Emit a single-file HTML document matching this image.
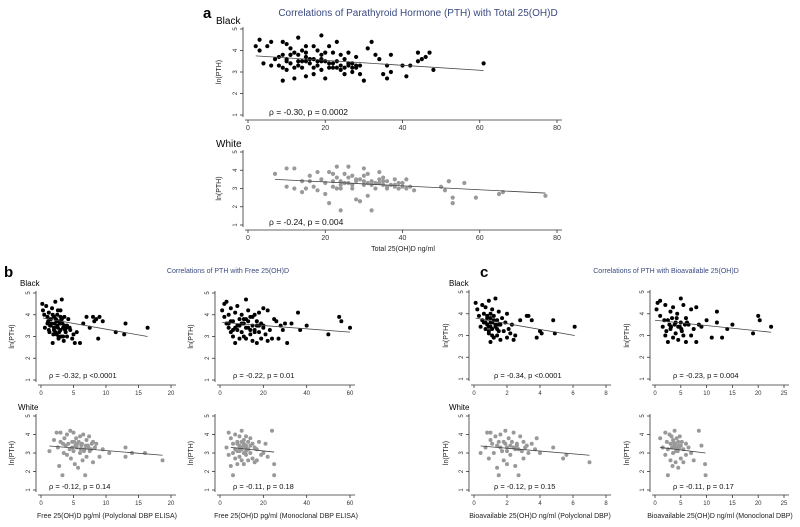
<!DOCTYPE html>
<html><head><meta charset="utf-8">
<style>
html,body{margin:0;padding:0;background:#fff;}
svg{display:block;font-family:"Liberation Sans",Arial,sans-serif;}
</style></head>
<body>
<svg id="fig" width="800" height="527" viewBox="0 0 800 527">
<text x="203" y="18" font-size="15" font-weight="bold">a</text>
<text x="418" y="16" font-size="10" fill="#3a4a80" text-anchor="middle">Correlations of Parathyroid Hormone (PTH) with Total 25(OH)D</text>
<text x="216" y="24" font-size="10">Black</text>
<text x="216" y="147" font-size="10">White</text>
<text x="403" y="251" font-size="7" text-anchor="middle" fill="#222">Total 25(OH)D ng/ml</text>

<text x="4" y="277" font-size="15" font-weight="bold">b</text>
<text x="228" y="273" font-size="7" fill="#3a4a80" text-anchor="middle">Correlations of PTH with Free 25(OH)D</text>
<text x="20" y="286" font-size="8">Black</text>
<text x="18" y="410" font-size="8">White</text>
<text x="107" y="518" font-size="7" text-anchor="middle" fill="#222">Free 25(OH)D pg/ml (Polyclonal DBP ELISA)</text>
<text x="286" y="518" font-size="7" text-anchor="middle" fill="#222">Free 25(OH)D pg/ml (Monoclonal DBP ELISA)</text>

<text x="480" y="277" font-size="15" font-weight="bold">c</text>
<text x="666" y="273" font-size="7" fill="#3a4a80" text-anchor="middle">Correlations of PTH with Bioavailable 25(OH)D</text>
<text x="449" y="286" font-size="8">Black</text>
<text x="449" y="410" font-size="8">White</text>
<text x="540" y="518" font-size="7" text-anchor="middle" fill="#222">Bioavailable 25(OH)D ng/ml (Polyclonal DBP)</text>
<text x="720" y="518" font-size="7" text-anchor="middle" fill="#222">Bioavailable 25(OH)D ng/ml (Monoclonal DBP)</text>
</svg>
<script>
// ---- data ----
const yTicks = [1,2,3,4,5];
const aTicks = [0,20,40,60,80];
const bLTicks = [0,5,10,15,20];
const bRTicks = [0,20,40,60];
const cLTicks = [0,2,4,6,8];
const cRTicks = [0,5,10,15,20,25];

const aBx = [2,3,3,4,5,6,6,7,8,9,9,9,10,10,10,11,11,12,12,13,13,13,14,14,15,15,15,16,16,17,17,17,18,18,19,19,19,20,20,21,21,22,22,23,23,24,24,25,25,26,26,27,27,28,28,29,29,30,31,32,33,34,35,36,36,37,37,40,41,42,44,44,45,46,47,48,61,8,9,10,11,12,13,14,15,16,17,18,19,20,21,22,23,24,25,26,27,28,11,15,19];
const aBy = [4.2,4.5,4.0,3.4,4.2,3.3,4.4,3.6,3.3,4.4,2.6,3.8,4.3,3.1,3.6,4.1,3.4,2.7,3.9,4.6,3.3,3.8,3.5,4.0,2.8,3.7,4.2,3.4,3.6,2.9,4.2,3.6,3.3,4.0,4.7,3.1,3.8,3.9,2.7,3.4,4.2,3.2,3.9,4.4,3.5,3.1,3.8,2.9,3.6,3.3,3.9,3.0,3.4,3.7,3.2,2.9,3.3,2.6,4.1,4.4,3.8,3.6,2.9,3.3,2.7,3.8,3.0,3.3,2.8,3.3,3.9,3.5,3.6,3.7,3.9,3.1,3.4,3.7,3.2,3.5,3.8,3.2,3.5,3.2,3.5,3.6,3.2,3.5,3.6,3.5,3.2,3.4,3.2,3.3,3.2,3.4,3.2,3.3,3.8,3.9,3.5];
const aBfit = [[2,3.75],[61,3.07]];

const aWx = [7,10,10,12,12,14,14,15,16,16,17,18,18,19,20,20,21,21,22,22,23,23,24,24,24,25,25,26,26,27,27,28,28,29,29,30,30,30,31,31,32,32,33,33,34,34,35,35,36,36,37,38,38,39,40,41,41,42,43,50,51,52,52,53,53,56,59,65,66,77,22,24,26,28,30,32,34,36,38,40,23,27,31,35,39];
const aWy = [3.8,4.1,3.1,4.1,3.0,3.4,2.8,3.0,3.7,3.4,3.1,3.9,2.9,3.5,2.7,3.3,3.9,2.2,3.8,3.1,4.2,3.6,3.4,1.8,3.0,3.8,3.3,4.2,3.6,3.0,3.7,2.4,3.4,3.5,2.3,4.1,3.2,3.7,2.6,3.8,1.8,3.4,3.3,3.0,3.9,3.5,3.2,3.6,3.0,3.4,3.2,3.5,3.1,3.3,3.3,3.5,3.0,3.1,2.9,3.1,2.9,3.4,3.4,2.5,2.2,3.3,2.5,2.7,2.8,2.6,3.4,3.2,3.3,3.5,3.4,3.2,3.3,3.1,3.2,3.1,3.0,3.2,3.3,3.4,3.0];
const aWfit = [[7,3.5],[77,2.75]];

const bLBx = [0.2,0.3,0.5,0.6,0.8,1,1,1.2,1.3,1.5,1.5,1.7,1.8,2,2,2.1,2.2,2.4,2.5,2.5,2.7,2.8,3,3,3.1,3.2,3.3,3.4,3.5,3.6,3.8,4,4,4.2,4.5,4.8,5,5.2,5.5,6,6.5,7,7.5,8,8.2,8.5,8.8,9,9.5,11.5,12.8,13,16.4,1.1,1.9,2.3,2.6,2.9,3.7,1.4,2.7,3.9,1.6,2.0,2.4,2.8,3.2,3.6,1.2,1.8,2.2,3.0,3.4,4.4,2.6,3.0];
const bLBy = [4.5,4.2,4.0,3.4,4.4,3.9,3.6,4.1,3.2,3.8,3.5,4.3,2.7,3.9,3.3,3.6,4.6,3.1,4.0,3.5,2.9,3.7,4.2,3.3,3.0,4.7,3.6,3.4,2.8,3.9,3.2,3.5,3.0,3.8,3.3,2.9,3.1,2.7,3.2,2.7,3.6,3.9,3.4,3.9,3.7,3.8,2.9,3.9,3.7,3.2,3.1,3.6,3.4,3.7,3.1,3.8,3.4,3.6,3.3,3.5,3.0,3.4,3.6,3.4,3.7,3.2,3.8,3.5,3.3,4.0,3.2,3.9,3.0,3.4,4.2,3.7];
const bLBfit = [[0.3,3.85],[16.4,3.0]];

const bRBx = [1,2,2,3,4,4,5,5,6,6,7,7,8,8,9,9,10,10,11,11,12,12,12,13,13,14,14,15,15,16,16,17,17,18,18,19,19,20,20,21,22,22,23,24,25,26,27,28,29,30,31,33,36,37,40,50,55,56,60,3,6,9,11,14,17,5,8,10,13,15,18,4,7,12,16,20];
const bRBy = [4.2,4.5,3.9,4.6,3.4,4.0,3.2,4.3,3.0,3.7,2.7,4.1,3.5,4.4,2.9,3.8,3.2,4.0,3.6,3.0,4.7,3.4,2.9,4.2,3.7,3.1,3.9,3.5,2.8,4.0,3.3,3.7,2.7,4.1,3.2,3.6,2.9,3.4,4.3,3.1,4.2,2.8,3.3,2.9,3.8,3.7,2.9,3.5,3.3,3.6,2.7,3.6,4.1,3.3,3.5,3.1,3.9,3.7,3.4,3.6,3.3,3.5,3.8,3.3,3.5,3.7,3.3,3.6,3.4,3.9,3.5,3.6,3.4,3.8,3.2,3.5];
const bRBfit = [[1,3.65],[60,3.2]];

const bLWx = [1.3,2,2.4,2.6,2.8,3,3,3.3,3.5,3.6,3.8,4,4,4.2,4.5,4.6,4.8,5,5,5.2,5.4,5.5,5.7,5.8,6,6,6.2,6.4,6.5,6.7,6.8,7,7,7.2,7.4,7.5,7.8,8,8,8.3,8.5,9,9.5,10.5,13,13,14,16,18.7,3.4,4.4,5.3,6.3,6.6,7.3,4.8,5.6,6.1,6.9,7.7,5.1];
const bLWy = [3.1,3.7,4.1,3.3,2.3,4.1,3.6,1.8,3.0,3.8,3.4,2.9,4.0,3.5,4.2,2.7,3.6,3.1,4.1,2.4,3.8,3.3,2.2,3.6,3.0,3.9,3.4,2.6,4.0,3.2,1.8,3.7,2.8,3.4,3.9,3.1,3.5,2.5,3.6,3.3,3.5,2.8,3.2,3.0,3.3,2.8,3.0,3.0,2.6,3.5,3.2,3.4,3.5,3.1,3.3,3.3,3.5,3.2,3.4,3.2,3.6];
const bLWfit = [[1.3,3.38],[18.7,2.88]];

const bRWx = [3,4,4,5,5,6,6,6,7,7,7,8,8,8,9,9,9,10,10,10,11,11,11,12,12,12,13,13,13,14,14,15,15,16,16,17,17,18,19,20,21,22,24,25,25,9,10,11,12,13,8,10,12,14,11,9];
const bRWy = [3.3,4.1,2.9,3.8,2.3,3.5,3.0,1.8,4.0,3.2,2.7,3.6,3.1,2.4,3.9,3.4,2.8,4.2,3.3,2.6,3.7,3.0,2.4,3.9,3.4,2.9,3.6,3.2,2.6,3.8,3.0,3.5,2.7,3.3,2.5,3.2,2.6,3.6,2.9,3.0,3.5,2.8,4.2,2.4,1.8,3.3,3.2,3.4,3.3,3.2,3.5,3.6,3.1,3.4,3.5,3.1];
const bRWfit = [[5,3.3],[25,3.05]];

const cLBx = [0.1,0.2,0.3,0.4,0.5,0.5,0.6,0.7,0.7,0.8,0.8,0.9,0.9,1,1,1,1.1,1.1,1.2,1.2,1.3,1.3,1.4,1.4,1.5,1.5,1.6,1.7,1.8,1.9,2,2,2.1,2.2,2.3,2.4,2.5,2.8,3.2,3.3,3.5,3.8,4,4.1,4.8,4.9,6.1,0.6,0.9,1.1,1.3,0.7,0.9,1.0,1.2,1.4,1.6,0.8,1.1,1.5,1.0];
const cLBy = [4.5,4.2,3.9,3.4,4.4,3.7,4.0,3.3,4.3,3.8,3.5,4.6,3.1,4.0,3.6,2.7,4.2,3.3,3.9,2.9,4.7,3.4,3.7,3.0,4.1,3.5,2.8,3.8,3.2,3.6,2.9,4.0,3.3,3.1,3.5,2.8,3.0,3.7,3.9,3.9,3.7,2.9,3.2,3.1,3.7,3.1,3.4,3.6,3.4,3.6,3.5,3.6,3.2,3.4,3.7,3.3,3.5,3.9,3.0,3.2,3.8];
const cLBfit = [[0.1,3.8],[6.1,3.0]];

const cRBx = [0.3,0.5,1,1,1.5,2,2,2.5,2.5,3,3,3.3,3.5,3.5,4,4,4.3,4.5,4.5,5,5,5.2,5.5,5.5,6,6,6.5,7,7,7.5,8,8,8.5,9,10,11,12,12,13,14,15,19,20,20.3,22.5,2.8,3.8,4.8,5.8,1.8,3.1,4.2,5.1,6.2,2.2];
const cRBy = [4.2,4.5,3.9,4.6,3.4,4.4,3.0,3.7,2.7,4.1,3.3,3.8,2.9,4.3,3.6,3.1,4.0,3.4,2.8,4.7,3.6,3.2,4.4,3.0,3.8,2.7,3.5,4.2,3.0,3.3,4.3,2.7,3.5,3.4,3.7,2.9,4.1,3.6,2.9,3.3,3.5,3.1,3.9,3.7,3.4,3.5,3.5,3.4,3.5,3.7,3.4,3.8,3.3,3.6,3.2];
const cRBfit = [[0,3.7],[22.5,3.15]];

const cLWx = [0.4,0.7,0.8,0.9,1,1,1.1,1.2,1.3,1.4,1.4,1.5,1.6,1.7,1.8,1.8,1.9,2,2,2.1,2.2,2.3,2.4,2.5,2.5,2.6,2.7,2.8,2.9,3,3,3.2,3.3,3.5,3.7,3.8,4,4.8,5.4,5.6,7,1.6,2.2,2.7,3.1,1.9,2.4,2.0,2.6,1.5];
const cLWy = [3.0,3.3,4.1,2.7,3.7,4.1,3.5,3.0,3.9,2.2,3.4,1.8,4.0,3.1,2.6,3.6,4.2,3.3,2.4,3.8,2.9,3.6,4.1,3.2,2.3,3.5,1.8,3.9,3.1,3.6,2.7,3.4,3.0,3.5,3.2,3.8,3.0,3.3,2.7,2.9,2.5,3.3,3.4,3.2,3.3,3.5,3.3,3.1,3.4,3.6];
const cLWfit = [[0.4,3.38],[7,2.88]];

const cRWx = [1,1.5,2,2,2.3,2.5,2.5,2.8,3,3,3.2,3.4,3.5,3.5,3.8,4,4,4.2,4.4,4.5,4.5,4.8,5,5,5.2,5.5,5.5,6,6,6.5,7,7.5,8.5,9,9.7,9.8,3.3,3.7,4.3,4.7,3.9,4.1,4.6,3.6];
const cRWy = [3.8,3.3,4.1,2.9,3.6,1.8,3.2,4.0,2.6,3.5,3.9,2.3,3.7,3.0,4.2,3.3,2.5,3.8,3.1,3.6,2.2,3.9,3.4,2.7,3.6,3.2,2.5,3.5,2.9,3.3,3.0,2.6,4.2,3.4,2.4,1.8,3.3,3.4,3.2,3.3,3.5,3.1,3.4,3.6];
const cRWfit = [[1,3.3],[9.8,3.0]];

const stats = ["ρ = -0.30, p = 0.0002","ρ = -0.24, p = 0.004","ρ = -0.32, p <0.0001","ρ = -0.22, p = 0.01","ρ = -0.12, p = 0.14","ρ = -0.11, p = 0.18","ρ = -0.34, p <0.0001","ρ = -0.23, p = 0.004","ρ = -0.12, p = 0.15","ρ = -0.11, p = 0.17"];

// ---- drawing ----
const NS = "http://www.w3.org/2000/svg";
const svg = document.getElementById('fig');
function mk(tag, attrs, parent){
  const e = document.createElementNS(NS, tag);
  for (const k in attrs) e.setAttribute(k, attrs[k]);
  (parent||svg).appendChild(e);
  return e;
}
function panel(id, xs, ys, fit, ticks, px0, px1, y5, y1, yAxisX, xAxisY, color, stat, statX, statY, fs, ylabX, r){
  const g = mk('g', {});
  
  
  const tmin = ticks[0], tmax = ticks[ticks.length-1];
  const X = v => px0 + (v - tmin) / (tmax - tmin) * (px1 - px0);
  const Y = v => y1 + (v - 1) / 4 * (y5 - y1);
  const ya = mk('line', {x1:yAxisX, x2:yAxisX, y1:Y(5)-2, y2:Y(1)+2, stroke:'#333', 'stroke-width':0.8}, g);
  
  
  yTicks.forEach(t => {
    mk('line', {x1:yAxisX-3, x2:yAxisX, y1:Y(t), y2:Y(t), stroke:'#333', 'stroke-width':0.8}, g);
    const tl = mk('text', {x:yAxisX-6, y:Y(t), 'font-size':6, fill:'#333', 'text-anchor':'middle', transform:'rotate(-90 '+(yAxisX-6)+' '+Y(t)+')'}, g);
    tl.textContent = t;
    
    
  });
  const yl = mk('text', {x:ylabX, y:(Y(5)+Y(1))/2, 'font-size':7, fill:'#222', 'text-anchor':'middle', transform:'rotate(-90 '+ylabX+' '+((Y(5)+Y(1))/2)+')'}, g);
  yl.textContent = 'ln(PTH)';
  
  
  const xa = mk('line', {x1:yAxisX+2, x2:px1+5, y1:xAxisY, y2:xAxisY, stroke:'#333', 'stroke-width':0.8}, g);
  
  
  ticks.forEach(t => {
    mk('line', {x1:X(t), x2:X(t), y1:xAxisY, y2:xAxisY+3, stroke:'#333', 'stroke-width':0.8}, g);
    const tl = mk('text', {x:X(t), y:xAxisY+10, 'font-size':fs, fill:'#333', 'text-anchor':'middle'}, g);
    tl.textContent = t;
    
    
  });
  const n = Math.min(xs.length, ys.length);
  for (let i = 0; i < n; i++){
    const c = mk('circle', {cx:X(xs[i]), cy:Y(ys[i]), r:r, fill:color}, g);
    
    
  }
  const fl = mk('line', {x1:X(fit[0][0]), y1:Y(fit[0][1]), x2:X(fit[1][0]), y2:Y(fit[1][1]), stroke:'#444', 'stroke-width':0.8}, g);
  
  
  const st = mk('text', {x:statX, y:statY, 'font-size':fs+1.5, fill:'#111'}, g);
  st.textContent = stat;
  
  
}
panel('a-black', aBx, aBy, aBfit, aTicks, 248, 557, 29, 115, 243, 120, '#000', stats[0], 269, 115, 7, 221, 2.1);
panel('a-white', aWx, aWy, aWfit, aTicks, 248, 557, 152, 225, 243, 230, '#999', stats[1], 269, 225, 7, 221, 2.1);
panel('b-left-black', bLBx, bLBy, bLBfit, bLTicks, 41, 171, 293, 380, 36, 385, '#000', stats[2], 49, 378, 6, 14, 2.0);
panel('b-right-black', bRBx, bRBy, bRBfit, bRTicks, 220, 350, 293, 380, 215, 385, '#000', stats[3], 233, 378, 6, 193, 2.0);
panel('b-left-white', bLWx, bLWy, bLWfit, bLTicks, 41, 171, 416, 490, 36, 495, '#999', stats[4], 49, 489, 6, 14, 2.0);
panel('b-right-white', bRWx, bRWy, bRWfit, bRTicks, 220, 350, 416, 490, 215, 495, '#999', stats[5], 233, 489, 6, 193, 2.0);
panel('c-left-black', cLBx, cLBy, cLBfit, cLTicks, 474, 606, 292, 379, 469, 385, '#000', stats[6], 494, 378, 6, 448, 2.0);
panel('c-right-black', cRBx, cRBy, cRBfit, cRTicks, 655, 784, 292, 379, 650, 385, '#000', stats[7], 673, 378, 6, 629, 2.0);
panel('c-left-white', cLWx, cLWy, cLWfit, cLTicks, 474, 606, 416, 490, 469, 495, '#999', stats[8], 494, 489, 6, 448, 2.0);
panel('c-right-white', cRWx, cRWy, cRWfit, cRTicks, 655, 784, 416, 490, 650, 495, '#999', stats[9], 673, 489, 6, 629, 2.0);
</script>
</body></html>
